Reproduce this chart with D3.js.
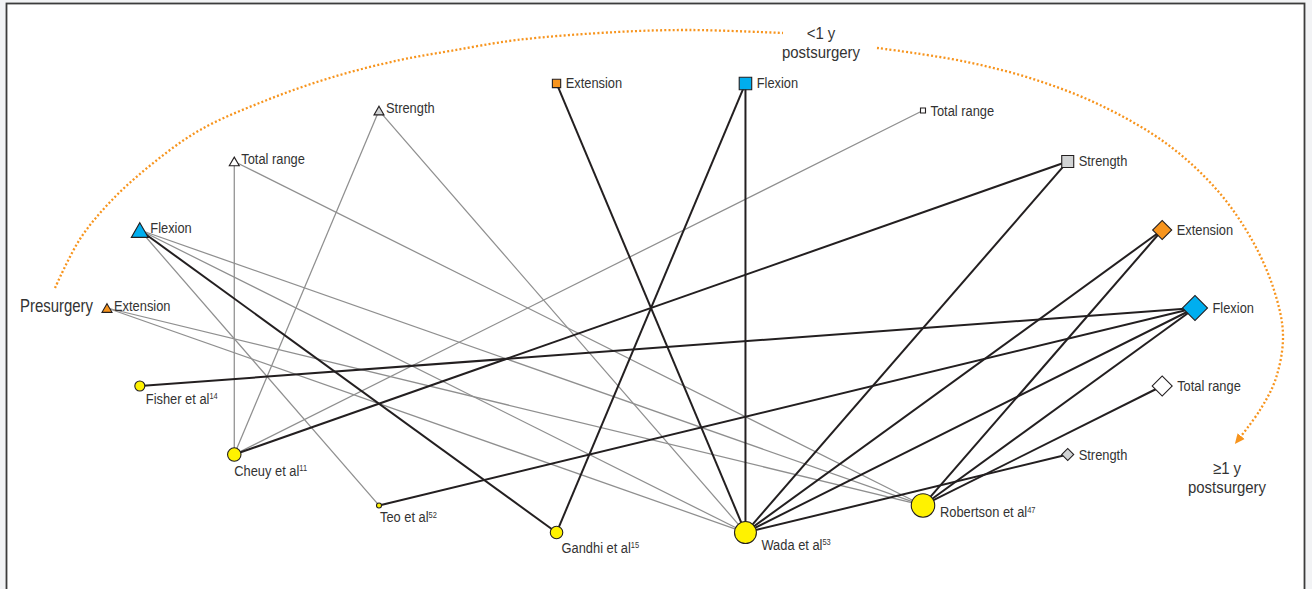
<!DOCTYPE html>
<html><head><meta charset="utf-8">
<script src="https://cdn.jsdelivr.net/npm/d3@7"></script>
<style>
html,body{margin:0;padding:0;background:#f2f3f5;}
svg{display:block;}
text{font-family:"Liberation Sans",Arial,sans-serif;fill:#333;}
</style></head><body>
<svg id="chart" width="1312" height="589"></svg>
<script>
// ---------------- DATA ----------------
const timepoints = ["Presurgery", "<1 y postsurgery", "≥1 y postsurgery"];
const outcomes = ["Extension", "Flexion", "Total range", "Strength"];
// relative weight of each outcome node (same order as outcomes)
const preWeights   = [16, 46, 16, 16];
const earlyWeights = [11, 25, 4, 23];
const lateWeights  = [58, 100, 64, 23];
const studies      = ["Robertson et al", "Wada et al", "Gandhi et al", "Teo et al", "Cheuy et al", "Fisher et al"];
const studyRefs    = ["47", "53", "15", "52", "11", "14"];
const studyWeights = [88, 77, 25, 4, 29, 16];
// links: [timepoint, outcome, study]
const strongLinks = [
  ["Presurgery", "Flexion", "Gandhi et al"],
  ["<1 y postsurgery", "Extension", "Wada et al"],
  ["<1 y postsurgery", "Flexion", "Wada et al"],
  ["<1 y postsurgery", "Flexion", "Gandhi et al"],
  ["<1 y postsurgery", "Strength", "Cheuy et al"],
  ["<1 y postsurgery", "Strength", "Wada et al"],
  ["≥1 y postsurgery", "Extension", "Wada et al"],
  ["≥1 y postsurgery", "Extension", "Robertson et al"],
  ["≥1 y postsurgery", "Flexion", "Fisher et al"],
  ["≥1 y postsurgery", "Flexion", "Teo et al"],
  ["≥1 y postsurgery", "Flexion", "Wada et al"],
  ["≥1 y postsurgery", "Flexion", "Robertson et al"],
  ["≥1 y postsurgery", "Total range", "Robertson et al"],
  ["≥1 y postsurgery", "Strength", "Wada et al"]
];
const weakLinks = [
  ["Presurgery", "Total range", "Cheuy et al"],
  ["Presurgery", "Total range", "Robertson et al"],
  ["Presurgery", "Strength", "Cheuy et al"],
  ["Presurgery", "Strength", "Wada et al"],
  ["Presurgery", "Flexion", "Teo et al"],
  ["Presurgery", "Flexion", "Wada et al"],
  ["Presurgery", "Flexion", "Robertson et al"],
  ["Presurgery", "Extension", "Wada et al"],
  ["Presurgery", "Extension", "Robertson et al"],
  ["<1 y postsurgery", "Total range", "Cheuy et al"]
];

// ---------------- LAYOUT ----------------
const svg = d3.select("#chart");
svg.append("rect").attr("x", 6.5).attr("y", 3.5).attr("width", 1298).attr("height", 700)
  .attr("fill", "#fff").attr("stroke", "#3c3c3c").attr("stroke-width", 1.8);

const weightsByTime = [preWeights, earlyWeights, lateWeights];
const shapes = ["triangle", "square", "diamond"];
const nodes = [];
timepoints.forEach((t, ti) => outcomes.forEach((o, oi) =>
  nodes.push({id: t + "|" + o, label: o, kind: shapes[ti], outcome: o, weight: weightsByTime[ti][oi]})));
studies.forEach((s, si) => nodes.push({id: s, label: s, ref: studyRefs[si], kind: "circle", weight: studyWeights[si]}));

const angle = d3.scaleLinear().domain([0, nodes.length]).range([Math.PI, 3 * Math.PI]);
const xs = d3.scaleLinear().domain([-1, 1]).range([107, 1195]);
const ys = d3.scaleLinear().domain([-1, 1]).range([80, 536]);
const half = d3.scaleSqrt().domain([0, 100]).range([0, 12.5]);
const color = d3.scaleOrdinal().domain(outcomes).range(["#f7941d", "#00aeef", "#ffffff", "#d1d3d4"]);

nodes.forEach((n, i) => {
  const a = angle(i);
  n.x = xs(Math.cos(a));
  n.y = ys(Math.sin(a));
  n.h = half(n.weight);
});
const byId = new Map(nodes.map(n => [n.id, n]));

// ---------------- ARC ANNOTATION ----------------
const arcA = [[55,288],[80,239],[112,200],[152,164],[200,130],[267,100],[333,77],[400,60],[450,51],[517,40],[617,32],[690,30],[783,33]];
const arcB = [[877,48],[900,51],[967,62],[1033,79],[1100,105],[1167,144],[1217,190],[1252,240],[1274,290],[1283,335],[1276,378],[1260,410],[1238,440]];
const arcLine = d3.line().curve(d3.curveCatmullRom.alpha(0.5));
const defs = svg.append("defs");
defs.append("marker").attr("id", "arr").attr("viewBox", "0 0 10 10").attr("refX", 5).attr("refY", 5)
  .attr("markerWidth", 10).attr("markerHeight", 10).attr("markerUnits", "userSpaceOnUse").attr("orient", "auto")
  .append("path").attr("d", "M0,0.5 L10,5 L0,9.5 Z").attr("fill", "#f7941d");
const arcG = svg.append("g").attr("fill", "none").attr("stroke", "#f7941d").attr("stroke-width", 2.3)
  .attr("stroke-dasharray", "2,2.2");
arcG.append("path").attr("d", arcLine(arcA));
arcG.append("path").attr("d", arcLine(arcB)).attr("marker-end", "url(#arr)");

// ---------------- LINKS ----------------
function linkData(list) {
  return list.map(([t, o, s]) => ({source: byId.get(t + "|" + o), target: byId.get(s)}));
}
svg.append("g").selectAll("line").data(linkData(weakLinks)).join("line")
  .attr("x1", d => d.source.x).attr("y1", d => d.source.y)
  .attr("x2", d => d.target.x).attr("y2", d => d.target.y)
  .attr("stroke", "#8f8f8f").attr("stroke-width", 1.25);
svg.append("g").selectAll("line").data(linkData(strongLinks)).join("line")
  .attr("x1", d => d.source.x).attr("y1", d => d.source.y)
  .attr("x2", d => d.target.x).attr("y2", d => d.target.y)
  .attr("stroke", "#231f20").attr("stroke-width", 2);

// ---------------- NODES ----------------
const ng = svg.append("g").attr("stroke", "#231f20").attr("stroke-width", 1.1);
nodes.forEach(n => {
  if (n.kind === "circle") {
    ng.append("circle").attr("cx", n.x).attr("cy", n.y).attr("r", n.h).attr("fill", "#fff200");
  } else if (n.kind === "triangle") {
    const area = Math.sqrt(3) * n.h * n.h;
    ng.append("path").attr("d", d3.symbol(d3.symbolTriangle, area)())
      .attr("transform", `translate(${n.x},${n.y + n.h / (2 * Math.sqrt(3))})`)
      .attr("fill", color(n.outcome));
  } else if (n.kind === "square") {
    ng.append("path").attr("d", d3.symbol(d3.symbolSquare, 4 * n.h * n.h)())
      .attr("transform", `translate(${n.x},${n.y})`).attr("fill", color(n.outcome));
  } else {
    ng.append("path").attr("d", d3.symbol(d3.symbolSquare, 2 * n.h * n.h)())
      .attr("transform", `translate(${n.x},${n.y}) rotate(45)`).attr("fill", color(n.outcome));
  }
});

// ---------------- LABELS ----------------
const SX = 0.83;
function addText(x, y, str, size, anchor, sup, sx) {
  const t = svg.append("text").attr("transform", `translate(${x},${y}) scale(${sx || SX},1)`)
    .attr("font-size", size).attr("text-anchor", anchor || "start");
  t.append("tspan").text(str);
  if (sup) t.append("tspan").attr("font-size", 9).attr("dy", -4.5).text(sup);
  return t;
}
const studyLabelOffset = {
  "Robertson et al": [17, 12], "Wada et al": [16, 17], "Gandhi et al": [5, 20],
  "Teo et al": [1, 17], "Cheuy et al": [0, 21], "Fisher et al": [6, 18]
};
const LS = 15.5;
nodes.forEach(n => {
  if (n.kind === "circle") {
    const [dx, dy] = studyLabelOffset[n.id];
    addText(n.x + dx, n.y + dy, n.label, LS, "start", n.ref);
  } else if (n.kind === "triangle") {
    addText(n.x + n.h + 2, n.y + 2.5, n.label, LS);
  } else {
    addText(n.x + n.h + 5, n.y + 5, n.label, LS);
  }
});

// group labels
const GS = 17, GSX = 0.88;
addText(20, 312, timepoints[0], 18, "start", null, 0.83);
const splitLabel = s => { const i = s.indexOf(" postsurgery"); return [s.slice(0, i), s.slice(i + 1)]; };
const [e1, e2] = splitLabel(timepoints[1]);
addText(821, 38.5, e1, GS, "middle", null, GSX);
addText(821, 57.5, e2, GS, "middle", null, GSX);
const [l1, l2] = splitLabel(timepoints[2]);
addText(1227, 474, l1, GS, "middle", null, GSX);
addText(1227, 493, l2, GS, "middle", null, GSX);
</script>
</body></html>
